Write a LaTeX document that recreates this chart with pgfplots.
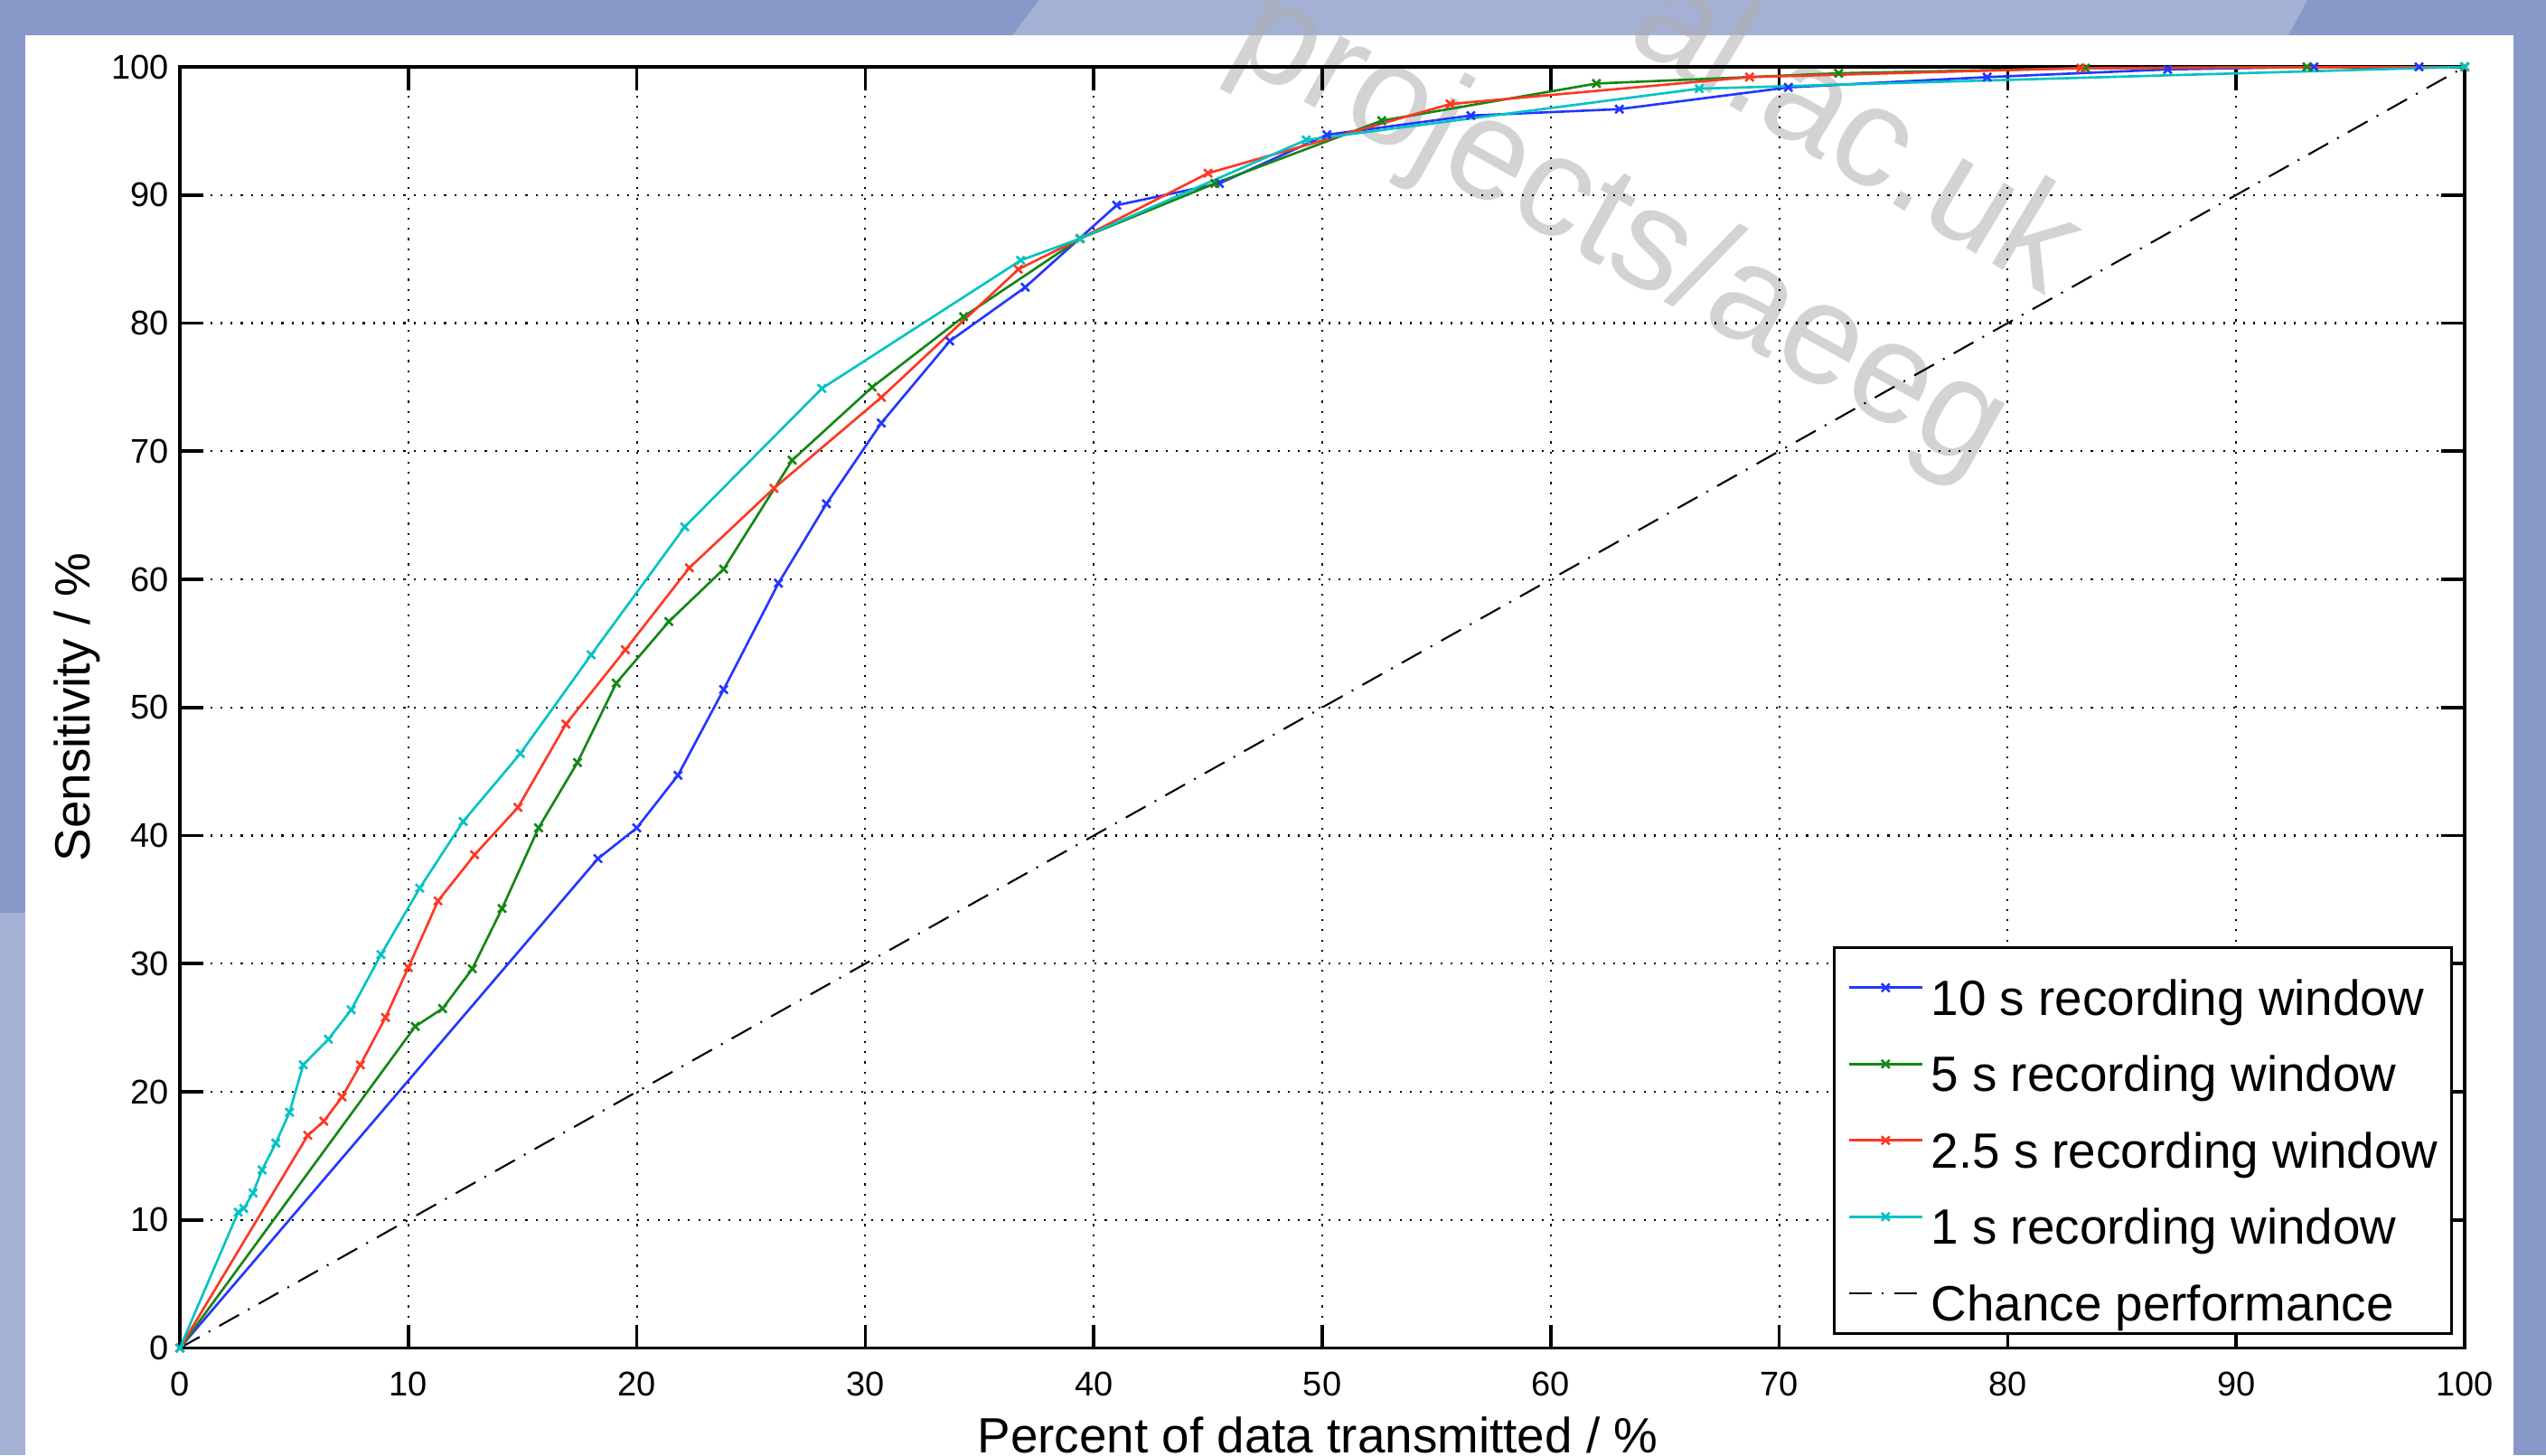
\documentclass[border=0pt]{standalone}
\usepackage{fontspec}
\setmainfont{Liberation Sans}
\usepackage{pgfplots}
\pgfplotsset{compat=1.18}

\definecolor{bgblue}{RGB}{136,152,200}
\definecolor{bglight}{RGB}{164,177,212}
\definecolor{wmark}{RGB}{175,175,175}
\definecolor{mblue}{RGB}{35,55,255}
\definecolor{mgreen}{RGB}{20,135,20}
\definecolor{mred}{RGB}{255,55,35}
\definecolor{mcyan}{RGB}{0,195,195}

\begin{document}
\begin{tikzpicture}
% page frame: 1 px of the reference = 0.01 cm
\path[use as bounding box] (0,0) rectangle (28.17,16.10);
\clip (0,0) rectangle (28.17,16.10);
\fill[bgblue] (0,0) rectangle (28.17,16.10);
\fill[bglight] (11.2,15.71) -- (11.5,16.10) -- (25.53,16.10) -- (25.32,15.71) -- cycle;
\fill[bglight] (0,0) rectangle (0.28,6.0);
\fill[white] (0.28,0) rectangle (27.81,15.71);

% blurred watermark of the slide
\node[wmark, opacity=0.55, rotate=-31, anchor=east,
      font=\fontsize{45}{54}\selectfont] at (23.03,13.25) {al.ac.uk};
\node[wmark, opacity=0.55, rotate=-29, anchor=east,
      font=\fontsize{45}{54}\selectfont] at (22.18,11.15) {projects/aeeg};

\begin{axis}[
    at={(1.99cm,1.185cm)}, anchor=south west,
    scale only axis,
    width=25.28cm, height=14.175cm,
    xmin=0, xmax=100, ymin=0, ymax=100,
    xtick={0,10,...,100}, ytick={0,10,...,100},
    grid=major,
    major grid style={black, line width=0.6pt, dash pattern=on 0.6pt off 2.6pt},
    axis line style={black, line width=1pt},
    tick style={black, line width=1pt},
    major tick length=0.26cm,
    tick align=inside,
    ticklabel style={font=\fontsize{10.8}{13}\selectfont},
    xticklabel style={yshift=-0.14cm},
    /pgf/number format/assume math mode=true,
    xlabel={Percent of data transmitted / \%},
    ylabel={Sensitivity / \%},
    label style={font=\fontsize{15.6}{18}\selectfont, inner sep=0pt},
    xlabel style={at={(axis description cs:0.498,-0.0815)}, anchor=base},
    ylabel style={at={(axis description cs:-0.0344,0.5)}, anchor=south},
    legend style={
        at={(axis description cs:0.9949,0.0102)}, anchor=south east,
        draw=black, line width=1pt, fill=white,
        font=\fontsize{15.6}{18}\selectfont,
        inner xsep=0.15cm, inner ysep=0.02cm,
        row sep=-0.005cm, column sep=0.085cm,
        nodes={inner sep=0pt, text height=0.73cm, text depth=0.12cm},
    },
    legend cell align=left,
    legend image code/.code={
        \draw[mark repeat=2, mark phase=2, #1]
            plot coordinates {(0cm,0cm) (0.405cm,0cm) (0.81cm,0cm)};
    },
]

% 10 s recording window
\addplot[mblue, line width=0.75pt, mark=x, mark size=1.8pt, mark options={solid}] coordinates {
    (0,0) (18.3,38.2) (20.0,40.6) (21.8,44.7) (23.8,51.4) (26.2,59.7)
    (28.3,65.9) (30.7,72.2) (33.7,78.6) (37.0,82.8) (41.0,89.2) (45.5,90.9)
    (50.2,94.7) (56.5,96.2) (63.0,96.7) (70.4,98.4) (79.1,99.2) (87.0,99.8)
    (93.4,100) (98.0,100)
};
\addlegendentry{10 s recording window}

% 5 s recording window
\addplot[mgreen, line width=0.75pt, mark=x, mark size=1.8pt, mark options={solid}] coordinates {
    (0,0) (10.3,25.1) (11.5,26.5) (12.8,29.6) (14.1,34.3) (15.7,40.6)
    (17.4,45.7) (19.1,51.9) (21.4,56.7) (23.8,60.8) (26.8,69.3) (30.3,75.0)
    (34.3,80.5) (39.4,86.6) (45.3,90.9) (52.6,95.8) (62.0,98.7) (72.6,99.5)
    (83.4,99.9) (93.1,100) (100,100)
};
\addlegendentry{5 s recording window}

% 2.5 s recording window
\addplot[mred, line width=0.75pt, mark=x, mark size=1.8pt, mark options={solid}] coordinates {
    (0,0) (5.6,16.6) (6.3,17.7) (7.1,19.6) (7.9,22.1) (9.0,25.8)
    (10.0,29.7) (11.3,34.9) (12.9,38.5) (14.8,42.2) (16.9,48.7) (19.5,54.5)
    (22.3,60.9) (26.0,67.1) (30.7,74.2) (36.7,84.2) (39.4,86.6) (45.0,91.7)
    (55.6,97.1) (68.7,99.2) (83.2,99.9) (100,100)
};
\addlegendentry{2.5 s recording window}

% 1 s recording window
\addplot[mcyan, line width=0.75pt, mark=x, mark size=1.8pt, mark options={solid}] coordinates {
    (0,0) (2.55,10.6) (2.8,10.9) (3.2,12.1) (3.6,13.9) (4.2,16.0)
    (4.8,18.4) (5.4,22.1) (6.5,24.1) (7.5,26.4) (8.8,30.7) (10.5,35.9)
    (12.4,41.1) (14.9,46.4) (18.0,54.1) (22.1,64.1) (28.1,74.9) (36.8,84.9)
    (39.4,86.6) (49.3,94.3) (66.5,98.3) (100,100)
};
\addlegendentry{1 s recording window}

% chance
\addplot[black, line width=0.6pt, dash pattern=on 0.25cm off 0.115cm on 0.02cm off 0.115cm] coordinates {
    (0,0) (100,100)
};
\addlegendentry{Chance performance}

\end{axis}
\end{tikzpicture}
\end{document}
